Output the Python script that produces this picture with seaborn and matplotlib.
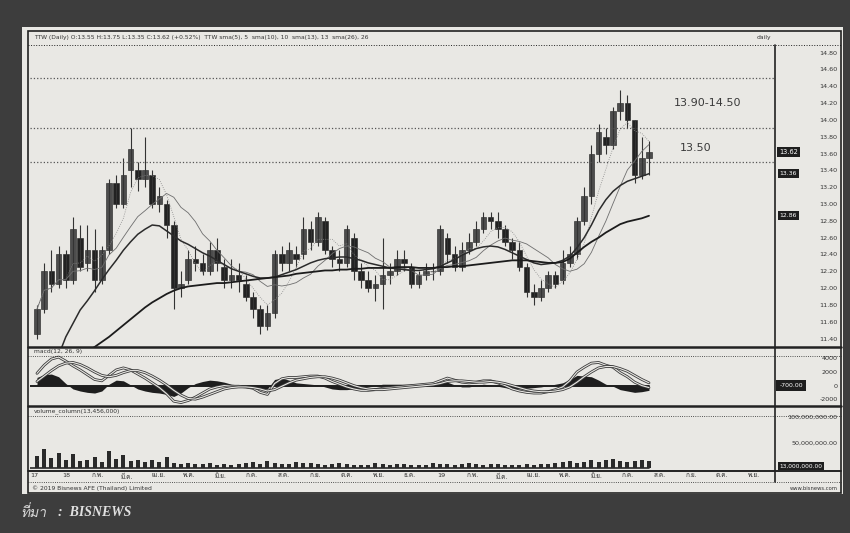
import numpy as np
import pandas as pd
import matplotlib
matplotlib.use("Agg")
import matplotlib.pyplot as plt
import seaborn as sns
from matplotlib import font_manager
from matplotlib.ft2font import FT2Font
from matplotlib.lines import Line2D
from matplotlib.patches import Rectangle

# weekly bars, first bar = week of 2017-12-04
start_date = "2017-12-04"
opens = [11.45, 11.75, 12.2, 12.05, 12.4, 12.1, 12.6, 12.3, 12.45, 12.1,
         12.45, 13.25, 13.0, 13.4, 13.4, 13.3, 13.35, 13.0, 13.0, 12.75,
         12.0, 12.1, 12.35, 12.3, 12.2, 12.45, 12.25, 12.1, 12.15, 12.05,
         11.9, 11.75, 11.55, 11.7, 12.4, 12.3, 12.4, 12.4, 12.7, 12.55,
         12.8, 12.45, 12.35, 12.3, 12.6, 12.2, 12.1, 12.0, 12.05, 12.15,
         12.2, 12.35, 12.25, 12.05, 12.15, 12.2, 12.2, 12.6, 12.4, 12.25,
         12.45, 12.55, 12.7, 12.85, 12.8, 12.7, 12.55, 12.45, 12.25, 11.95,
         11.9, 12.0, 12.15, 12.1, 12.3, 12.4, 12.8, 13.1, 13.6, 13.8,
         13.7, 14.1, 14.2, 14.0, 13.35, 13.55]
closes = [11.75, 12.2, 12.05, 12.4, 12.1, 12.7, 12.25, 12.45, 12.1, 12.45,
          13.25, 13.0, 13.35, 13.65, 13.3, 13.4, 13.0, 13.1, 12.75, 12.0,
          12.05, 12.35, 12.3, 12.2, 12.45, 12.3, 12.1, 12.15, 12.1, 11.9,
          11.75, 11.55, 11.7, 12.4, 12.3, 12.45, 12.35, 12.7, 12.55, 12.85,
          12.45, 12.35, 12.3, 12.7, 12.2, 12.1, 12.0, 12.05, 12.15, 12.2,
          12.35, 12.3, 12.05, 12.15, 12.2, 12.2, 12.7, 12.4, 12.25, 12.45,
          12.55, 12.7, 12.85, 12.8, 12.7, 12.55, 12.45, 12.25, 11.95, 11.9,
          12.0, 12.15, 12.05, 12.3, 12.4, 12.8, 13.1, 13.6, 13.85, 13.7,
          14.1, 14.2, 14.0, 13.35, 13.55, 13.62]
highs = [11.8, 12.3, 12.45, 12.5, 12.45, 12.85, 12.75, 12.75, 12.7, 12.5,
         13.3, 13.35, 13.55, 13.9, 13.5, 13.8, 13.4, 13.2, 13.05, 12.8,
         12.2, 12.45, 12.5, 12.4, 12.55, 12.6, 12.35, 12.35, 12.3, 12.15,
         11.95, 11.8, 11.8, 12.45, 12.5, 12.55, 12.5, 12.85, 12.8, 12.9,
         12.85, 12.5, 12.45, 12.75, 12.65, 12.3, 12.2, 12.15, 12.6, 12.3,
         12.45, 12.45, 12.3, 12.2, 12.3, 12.3, 12.75, 12.65, 12.5, 12.55,
         12.65, 12.8, 12.9, 12.9, 12.9, 12.75, 12.6, 12.55, 12.3, 12.05,
         12.1, 12.2, 12.2, 12.45, 12.5, 12.85, 13.2, 13.7, 13.95, 13.9,
         14.15, 14.35, 14.3, 14.0, 13.8, 13.75]
lows = [11.4, 11.7, 11.95, 12.0, 12.0, 12.05, 12.2, 12.2, 11.95, 12.05,
        12.4, 12.95, 12.95, 13.2, 13.15, 13.2, 12.95, 12.9, 12.6, 11.75,
        11.9, 12.05, 12.2, 12.15, 12.15, 12.2, 12.0, 12.0, 11.95, 11.85,
        11.65, 11.45, 11.5, 11.65, 12.2, 12.2, 12.25, 12.35, 12.45, 12.5,
        12.4, 12.25, 12.2, 12.25, 12.1, 12.0, 11.95, 11.85, 11.75, 12.05,
        12.15, 12.2, 12.0, 12.0, 12.1, 12.1, 12.15, 12.3, 12.2, 12.2,
        12.4, 12.5, 12.65, 12.7, 12.6, 12.5, 12.35, 12.2, 11.9, 11.8,
        11.85, 11.95, 12.0, 12.05, 12.25, 12.35, 12.75, 13.0, 13.5, 13.6,
        13.65, 14.0, 13.9, 13.25, 13.3, 13.35]
# volume in millions of shares
volumes = [24, 38, 20, 30, 16, 27, 13, 15, 21, 11,
           34, 18, 26, 14, 16, 11, 15, 12, 22, 10,
           8, 9, 7, 8, 10, 6, 7, 6, 8, 9,
           12, 8, 14, 9, 7, 8, 12, 10, 9, 7,
           6, 8, 10, 7, 6, 5, 6, 9, 7, 6,
           8, 7, 6, 5, 6, 9, 8, 7, 6, 8,
           9, 7, 6, 8, 7, 6, 5, 6, 7, 6,
           8, 7, 9, 12, 14, 10, 12, 16, 12, 15,
           18, 13, 12, 14, 16, 13]
# slow averages as drawn on the chart (they need history before the first bar)
ma13 = [10.7, 10.85, 11.0, 11.2, 11.42, 11.58, 11.74, 11.85, 11.97, 12.1,
        12.22, 12.33, 12.45, 12.55, 12.64, 12.7, 12.75, 12.74, 12.68, 12.62,
        12.56, 12.52, 12.47, 12.42, 12.38, 12.33, 12.28, 12.23, 12.2, 12.17,
        12.14, 12.12, 12.12, 12.13, 12.16, 12.19, 12.22, 12.26, 12.3, 12.33,
        12.35, 12.36, 12.37, 12.37, 12.35, 12.33, 12.3, 12.28, 12.26, 12.24,
        12.23, 12.22, 12.21, 12.21, 12.22, 12.23, 12.26, 12.3, 12.34, 12.39,
        12.43, 12.47, 12.49, 12.5, 12.49, 12.46, 12.42, 12.38, 12.34, 12.3,
        12.28, 12.29, 12.3, 12.33, 12.38, 12.48, 12.6, 12.75, 12.92, 13.05,
        13.15, 13.22, 13.27, 13.3, 13.33, 13.36]
ma26 = [10.9, 10.95, 11.0, 11.05, 11.1, 11.15, 11.2, 11.25, 11.3, 11.36,
        11.42, 11.49, 11.56, 11.63, 11.7, 11.77, 11.83, 11.88, 11.93, 11.97,
        12.0, 12.02, 12.03, 12.04, 12.05, 12.06, 12.06, 12.07, 12.08, 12.09,
        12.1, 12.11, 12.12, 12.13, 12.14, 12.15, 12.17, 12.18, 12.19, 12.2,
        12.21, 12.21, 12.22, 12.22, 12.23, 12.23, 12.24, 12.24, 12.24, 12.24,
        12.25, 12.25, 12.25, 12.24, 12.24, 12.24, 12.25, 12.25, 12.26, 12.26,
        12.27, 12.28, 12.29, 12.3, 12.31, 12.32, 12.33, 12.33, 12.33, 12.32,
        12.31, 12.3, 12.3, 12.31, 12.35, 12.42, 12.49, 12.55, 12.6, 12.66,
        12.71, 12.76, 12.79, 12.81, 12.83, 12.86]
# macd(12, 26, 9) lines
macd = [1800, 3000, 3900, 4200, 3600, 2900, 2300, 1600, 900, 700,
        1500, 2300, 2600, 2300, 1700, 1100, 400, -300, -1200, -2300,
        -2500, -2200, -1700, -1100, -500, -200, 0, -100, -100, -200,
        -400, -1000, -1300, 300, 1000, 1200, 1200, 1300, 1400, 1400,
        1100, 600, 200, -200, -500, -700, -700, -600, -400, -300,
        -200, -100, 0, 100, 200, 300, 700, 1100, 800, 500,
        400, 500, 700, 700, 400, 0, -500, -800, -1000, -1100,
        -1100, -900, -600, -200, 700, 2000, 2700, 3300, 3400, 3000,
        2700, 1900, 1300, 500, 0, -300]
signal = [600, 1400, 2200, 2900, 3300, 3400, 3100, 2600, 2000, 1500,
          1300, 1500, 1900, 2200, 2200, 1900, 1400, 800, 100, -700,
          -1400, -1900, -2000, -1700, -1300, -900, -500, -300, -200, -200,
          -300, -500, -800, -600, -100, 400, 800, 1000, 1200, 1300,
          1300, 1100, 800, 400, 0, -300, -500, -600, -600, -500,
          -400, -300, -200, -100, 0, 100, 300, 600, 700, 700,
          600, 500, 500, 600, 500, 300, 0, -300, -600, -800,
          -900, -900, -800, -600, -200, 500, 1300, 2000, 2600, 2800,
          2800, 2500, 2100, 1500, 900, 400]
zone_lines = [14.50, 13.90, 13.50]
thai_months = ["ม.ค.", "ก.พ.", "มี.ค.", "เม.ย.", "พ.ค.", "มิ.ย.",
               "ก.ค.", "ส.ค.", "ก.ย.", "ต.ค.", "พ.ย.", "ธ.ค."]

# find a font that can draw Thai
thai_font = None
for f in font_manager.fontManager.ttflist:
    try:
        if ord("ท") in FT2Font(f.fname).get_charmap():
            thai_font = f.name
            break
    except Exception:
        pass

sns.set_theme(style="white")
fams = ["DejaVu Sans"] if thai_font is None else [thai_font, "DejaVu Sans"]
plt.rcParams["font.family"] = ["DejaVu Sans"] + ([thai_font] if thai_font else [])

paper = "#e9e8e4"
ink = "#222222"

df = pd.DataFrame({"o": opens, "h": highs, "l": lows, "c": closes,
                   "v": np.array(volumes) * 1e6, "ma13": ma13, "ma26": ma26,
                   "macd": macd, "sig": signal})
df["idx"] = np.arange(len(df))
df["ma5"] = df["c"].rolling(5, min_periods=1).mean()
df["ma10"] = df["c"].rolling(10, min_periods=1).mean()
df["hist"] = df["macd"] - df["sig"]


def fx(x):
    return x / 850


def fy(y):
    return 1 - y / 533


fig = plt.figure(figsize=(8.5, 5.33), dpi=100, facecolor="#3d3d3d")
fig.add_artist(Rectangle((fx(22), fy(494)), fx(843) - fx(22), fy(27) - fy(494),
                         facecolor=paper, edgecolor="none", zorder=-5))
fig.add_artist(Rectangle((fx(28), fy(493)), fx(841) - fx(28), fy(31) - fy(493),
                         facecolor="none", edgecolor=ink, lw=1.2, zorder=5))
for yy, lw in [(45, 0.7), (347, 1.8), (356, 0.6), (406, 1.8), (416, 0.6), (471, 1.4), (482, 0.6)]:
    fig.add_artist(Line2D([fx(28), fx(841)], [fy(yy), fy(yy)], color=ink, lw=lw,
                          ls="-" if lw > 0.8 else ":", zorder=5))
fig.add_artist(Line2D([fx(775), fx(775)], [fy(482), fy(45)], color=ink, lw=1.2, zorder=5))

xlim = (-0.97, 102.5)
w = fx(775) - fx(30)
ax = fig.add_axes([fx(30), fy(347), w, fy(45) - fy(347)])
ax_m = fig.add_axes([fx(30), fy(405), w, fy(355) - fy(405)])
ax_v = fig.add_axes([fx(30), fy(470), w, fy(416) - fy(470)])
for a in (ax, ax_m, ax_v):
    a.set_facecolor("none")
    a.set_xlim(*xlim)
    for s in a.spines.values():
        s.set_visible(False)
    a.yaxis.tick_right()
    a.tick_params(axis="x", length=0)

# price panel
up = df["c"] >= df["o"]
ax.vlines(df["idx"], df["l"], df["h"], color="#333333", lw=0.8)
ax.bar(df["idx"], (df["c"] - df["o"]).abs(), bottom=df[["o", "c"]].min(axis=1), width=0.8,
       color=np.where(up, "#4d4d4d", "#222222"), edgecolor="#1e1e1e", lw=0.4)
sns.lineplot(data=df, x="idx", y="ma5", ax=ax, color="#8a8a8a", lw=0.6, ls=":")
sns.lineplot(data=df, x="idx", y="ma10", ax=ax, color="#6e6e6e", lw=0.6)
sns.lineplot(data=df, x="idx", y="ma13", ax=ax, color="#2b2b2b", lw=1.1)
sns.lineplot(data=df, x="idx", y="ma26", ax=ax, color="#1c1c1c", lw=1.3)
for z in zone_lines:
    ax.axhline(z, color="#555555", lw=0.9, ls=":")
ax.text(88.5, 14.20, "13.90-14.50", fontsize=8, color="#3a3a3a", va="center")
ax.text(89.3, 13.67, "13.50", fontsize=8, color="#3a3a3a", va="center")
ax.set_ylim(11.30, 14.89)
pticks = np.round(np.arange(11.4, 14.81, 0.2), 2)
ax.set_yticks(pticks, [f"{t:.2f}" for t in pticks])
ax.set_xticks([])
ax.set_xlabel("")
ax.set_ylabel("")
for val, fs in [(df["c"].iloc[-1], 4.8), (df["ma13"].iloc[-1], 4.4), (df["ma26"].iloc[-1], 4.4)]:
    ax.text(1.006, val, f"{val:.2f}", transform=ax.get_yaxis_transform(), fontsize=fs,
            color="white", va="center", clip_on=False,
            bbox=dict(boxstyle="square,pad=0.3", fc="#1e1e1e", ec="none"))

# macd panel
ax_m.fill_between(df["idx"], 0, df["hist"], color="#1e1e1e", lw=0)
ax_m.axhline(0, color="#1e1e1e", lw=1.4, xmax=(df["idx"].iloc[-1] - xlim[0]) / (xlim[1] - xlim[0]))
for col in ("macd", "sig"):
    sns.lineplot(data=df, x="idx", y=col, ax=ax_m, color="#3a3a3a", lw=2.0)
    sns.lineplot(data=df, x="idx", y=col, ax=ax_m, color=paper, lw=0.8)
ax_m.set_ylim(-2860, 4500)
ax_m.set_yticks([-2000, 0, 2000, 4000], ["-2000", "0", "2000", "4000"])
ax_m.set_xticks([])
ax_m.set_xlabel("")
ax_m.set_ylabel("")
hv = df["hist"].iloc[-1]
ax_m.text(1.006, 0, f"{hv:.2f}", transform=ax_m.get_yaxis_transform(), fontsize=4.4,
          color="white", va="center", clip_on=False,
          bbox=dict(boxstyle="square,pad=0.5", fc="#1e1e1e", ec="none"))

# volume panel
ax_v.bar(df["idx"], df["v"], width=0.55, color="#2a2a2a", lw=0)
ax_v.axhline(0, color="#2a2a2a", lw=1.2, xmax=(df["idx"].iloc[-1] - xlim[0]) / (xlim[1] - xlim[0]))
ax_v.set_ylim(-4e6, 102e6)
ax_v.set_yticks([50e6, 100e6], ["50,000,000.00", "100,000,000.00"])
lv = df["v"].iloc[-1]
ax_v.text(1.006, 4e6, f"{lv:,.2f}", transform=ax_v.get_yaxis_transform(), fontsize=4.2,
          color="white", va="center", clip_on=False,
          bbox=dict(boxstyle="square,pad=0.3", fc="#1e1e1e", ec="none"))

# right-hand value labels, right-aligned against the frame
for a in (ax, ax_m, ax_v):
    a.tick_params(axis="y", length=0, pad=45, labelsize=4.6, labelcolor="#333333")
    for lab in a.get_yticklabels():
        lab.set_horizontalalignment("right")

# month ticks
t0 = pd.Timestamp(start_date)
months = pd.date_range("2017-12-01", "2019-11-01", freq="MS")
pos = [(m - t0).days / 7 for m in months]
labs = []
for k, m in enumerate(months):
    if k == 0 or m.month == 1:
        labs.append(f"{m.year % 100:02d}")
    else:
        labs.append(thai_months[m.month - 1] if thai_font else m.strftime("%b"))
ax_v.set_xticks(pos, labs)
ax_v.tick_params(axis="x", labelsize=4.6, pad=2.5, labelcolor="#333333")
ax_v.set_xlabel("")
ax_v.set_ylabel("")

# panel titles and small print
fig.text(fx(34), fy(38), "TTW (Daily) O:13.55 H:13.75 L:13.35 C:13.62 (+0.52%)  TTW sma(5), 5  sma(10), 10  sma(13), 13  sma(26), 26",
         fontsize=4.3, color="#333333", va="center")
fig.text(fx(757), fy(38), "daily", fontsize=4.3, color="#333333", va="center")
fig.text(fx(34), fy(351), "macd(12, 26, 9)", fontsize=4.3, color="#333333", va="center")
fig.text(fx(34), fy(411), "volume_column(13,456,000)", fontsize=4.3, color="#333333", va="center")
fig.text(fx(32), fy(488), "© 2019 Bisnews AFE (Thailand) Limited", fontsize=4.3, color="#333333", va="center")
fig.text(fx(838), fy(489), "www.bisnews.com", fontsize=3.8, color="#333333", va="center", ha="right")
fig.text(fx(20), fy(513), "ที่มา", fontsize=10, color="#d8d8d8", va="center", style="italic",
         family=fams)
fig.text(fx(58), fy(513), ":  BISNEWS", fontsize=10, color="#e0e0e0", va="center",
         style="italic", weight="bold", family="Liberation Serif")

fig.savefig("out.png", dpi=100, facecolor=fig.get_facecolor())
